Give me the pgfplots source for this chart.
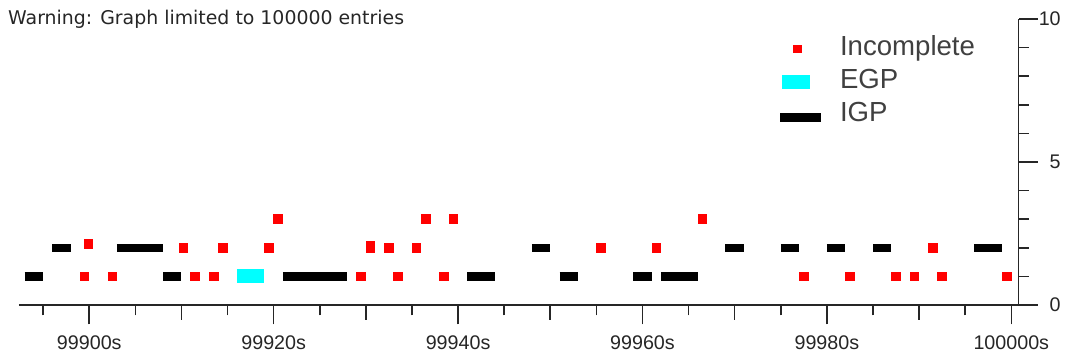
\documentclass[border=0pt]{standalone}
\usepackage{fontspec}
\setmainfont{Liberation Sans}
\newfontfamily\warnfont{DejaVu Sans}
\usepackage{pgfplots}
\pgfplotsset{compat=1.18}
\definecolor{egp}{RGB}{0,255,255}
\definecolor{incomplete}{RGB}{255,0,0}

\begin{document}
\begin{tikzpicture}[x=1pt,y=1pt]
\path[use as bounding box] (0,0) rectangle (1069,358);
\node[anchor=base west, inner sep=0pt, text=black!85,
      font=\warnfont\fontsize{18.9}{22}\selectfont] at (8,333)
      {Warning: Graph limited to 100000 entries};
\begin{axis}[
  at={(19pt,53pt)}, anchor=south west,
  scale only axis, width=999.5pt, height=286pt,
  xmin=99892.38, xmax=100000.78, ymin=0, ymax=10,
  scaled x ticks=false, scaled y ticks=false,
  axis x line*=bottom, axis y line*=right,
  every outer x axis line/.append style={-},
  every outer y axis line/.append style={-},
  axis line style={-, line width=1.6pt, black!85},
  tick style={line width=1.6pt, black!85},
  tick align=outside,
  major tick length=19.5pt, minor tick length=10.5pt,
  xtick={99900,99920,99940,99960,99980,100000},
  xticklabels={99900s,99920s,99940s,99960s,99980s,100000s},
  minor xtick={99895,99905,99915,99925,99935,99945,99955,99965,99975,99985,99995},
  extra x ticks={99910,99930,99950,99970,99990},
  extra x tick style={major tick length=15pt, xticklabel={}},
  ytick={0,5,10}, minor ytick={1,2,3,4,6,7,8,9},
  /pgf/number format/assume math mode=true,
  ticklabel style={font=\fontsize{19.7}{22}\selectfont, text=black!85, inner sep=0pt},
  xticklabel style={anchor=north, yshift=-11pt},
  yticklabel style={anchor=east, xshift=23pt},
  clip=false,
  legend style={at={(0.7614,0.944)}, anchor=north west, draw=none, fill=none,
    inner sep=0pt, outer sep=0pt, row sep=5.3pt, column sep=19.3pt,
    font=\fontsize{27.6}{30}\selectfont, text=black!75,
    nodes={inner sep=0pt, text height=20pt, text depth=8pt}},
  legend cell align=left,
]
% incomplete entries
\addplot[incomplete, only marks, mark=square*, mark size=4.3pt,
  mark options={fill=incomplete, draw=none, line width=0pt},
  legend image code/.code={\path[fill=incomplete, draw=none] (-7.15pt,-4.3pt) rectangle (1.85pt,4.3pt);}]
  coordinates {
  (99899.5,1) (99902.5,1) (99911.5,1) (99913.5,1) (99929.5,1) (99933.5,1)
  (99938.5,1) (99977.5,1) (99982.5,1) (99987.5,1) (99989.5,1) (99992.5,1)
  (99999.5,1)
  (99899.9,2.13) (99910.2,2) (99914.5,2) (99919.5,2) (99930.5,2) (99930.5,2.07)
  (99932.5,2) (99935.5,2) (99955.5,2) (99961.5,2) (99991.5,2)
  (99920.5,3) (99936.5,3) (99939.5,3) (99966.5,3)
  };
\addlegendentry{Incomplete}
% EGP periods
\addplot[egp, line width=14pt, line cap=butt, unbounded coords=jump,
  legend image code/.code={\path[fill=egp, draw=none] (-18.65pt,-6.7pt) rectangle (9.65pt,7.3pt);}]
  coordinates {(99916,1) (99919,1)};
\addlegendentry{EGP}
% IGP periods
\addplot[black, line width=8.5pt, line cap=butt, unbounded coords=jump,
  legend image code/.code={\path[fill=black, draw=none] (-20.35pt,-6.05pt) rectangle (20.35pt,2.45pt);}]
  coordinates {
  (99893,1) (99895,1) (99895,nan)
  (99908,1) (99910,1) (99910,nan)
  (99921,1) (99928,1) (99928,nan)
  (99941,1) (99944,1) (99944,nan)
  (99951,1) (99953,1) (99953,nan)
  (99959,1) (99961,1) (99961,nan)
  (99962,1) (99966,1) (99966,nan)
  (99896,2) (99898,2) (99898,nan)
  (99903,2) (99908,2) (99908,nan)
  (99948,2) (99950,2) (99950,nan)
  (99969,2) (99971,2) (99971,nan)
  (99975,2) (99977,2) (99977,nan)
  (99980,2) (99982,2) (99982,nan)
  (99985,2) (99987,2) (99987,nan)
  (99996,2) (99999,2)
  };
\addlegendentry{IGP}
\end{axis}
\end{tikzpicture}
\end{document}
